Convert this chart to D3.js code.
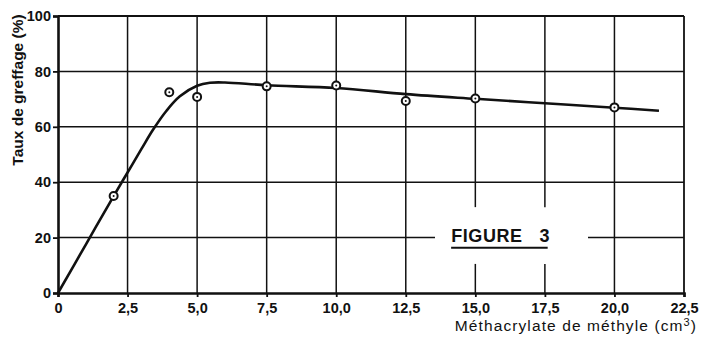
<!DOCTYPE html>
<html>
<head>
<meta charset="utf-8">
<script src="https://cdn.jsdelivr.net/npm/d3@7"></script>
<style>
  body { margin: 0; background: #fff; }
  svg { display: block; }
  text { font-family: "Liberation Sans", Arial, sans-serif; fill: #111; }
</style>
</head>
<body>
<svg width="701" height="338"></svg>
<script>
// measured points (x = cm3 methacrylate, y = % grafting)
var pointsX = [2, 4, 5, 7.5, 10, 12.5, 15, 20];
var pointsY = [35, 72.5, 70.8, 74.6, 74.9, 69.3, 70.2, 67];

// hand-drawn fit curve
var curveX = [0, 1, 2, 2.5, 3, 3.42, 3.9, 4.38, 5, 5.46, 6, 7.5, 10, 12.5, 15, 17.5, 20, 21.6];
var curveY = [0, 17.5, 35, 43.5, 52, 59, 65.8, 71, 74.8, 75.9, 76, 75, 74, 71.8, 70.1, 68.5, 66.9, 65.8];

var xTicks = [0, 2.5, 5, 7.5, 10, 12.5, 15, 17.5, 20, 22.5];
var yTicks = [0, 20, 40, 60, 80, 100];

var svg = d3.select("svg"),
  margin = { top: 16, right: 17, bottom: 45, left: 58 },
  width = +svg.attr("width") - margin.left - margin.right,
  height = +svg.attr("height") - margin.top - margin.bottom,
  g = svg.append("g").attr("transform", "translate(" + margin.left + "," + margin.top + ")");

var x = d3.scaleLinear().domain([0, 22.5]).range([0, width]),
  y = d3.scaleLinear().domain([0, 100]).range([height, 0]);

function fmt(v) {
  return v === 0 ? "0" : d3.format(".1f")(v).replace(".", ",");
}

// gaps left around the FIGURE 3 label
var gapTop = y(31), gapBottom = y(10.5), gapLeft = x(13.55), gapRight = x(19.05);

// vertical grid
xTicks.slice(1).forEach(function(t) {
  if (t === 15 || t === 17.5) {
    g.append("line").attr("x1", x(t)).attr("x2", x(t)).attr("y1", 0).attr("y2", gapTop)
      .attr("stroke", "#111").attr("stroke-width", 1.5);
    g.append("line").attr("x1", x(t)).attr("x2", x(t)).attr("y1", gapBottom).attr("y2", height)
      .attr("stroke", "#111").attr("stroke-width", 1.5);
  } else {
    g.append("line").attr("x1", x(t)).attr("x2", x(t)).attr("y1", 0).attr("y2", height)
      .attr("stroke", "#111").attr("stroke-width", t === 22.5 ? 1.8 : 1.5);
  }
});

// horizontal grid
yTicks.slice(1).forEach(function(t) {
  if (t === 20) {
    g.append("line").attr("x1", 0).attr("x2", gapLeft).attr("y1", y(t)).attr("y2", y(t))
      .attr("stroke", "#111").attr("stroke-width", 1.5);
    g.append("line").attr("x1", gapRight).attr("x2", width).attr("y1", y(t)).attr("y2", y(t))
      .attr("stroke", "#111").attr("stroke-width", 1.5);
  } else {
    g.append("line").attr("x1", 0).attr("x2", width).attr("y1", y(t)).attr("y2", y(t))
      .attr("stroke", "#111").attr("stroke-width", t === 100 ? 1.8 : 1.5);
  }
});

// axes
var xAxis = g.append("g")
  .attr("transform", "translate(0," + height + ")")
  .call(d3.axisBottom(x).tickValues(xTicks).tickFormat(fmt).tickSize(4).tickPadding(3));
var yAxis = g.append("g")
  .call(d3.axisLeft(y).tickValues(yTicks).tickFormat(d3.format("d")).tickSize(5).tickPadding(2));

[xAxis, yAxis].forEach(function(a) {
  a.select(".domain").attr("stroke", "#111").attr("stroke-width", 2.6);
  a.selectAll(".tick line").attr("stroke", "#111").attr("stroke-width", 1.8);
  a.selectAll(".tick text").style("font-size", "14.5px").style("font-weight", "bold").attr("fill", "#111");
});
xAxis.selectAll(".tick text").attr("dy", "0.9em");

// curve
var curveData = curveX.map(function(v, i) { return [v, curveY[i]]; });
var line = d3.line()
  .curve(d3.curveCatmullRom.alpha(0.5))
  .x(function(d) { return x(d[0]); })
  .y(function(d) { return y(d[1]); });

g.append("path")
  .datum(curveData)
  .attr("d", line)
  .attr("fill", "none")
  .attr("stroke", "#111")
  .attr("stroke-width", 2.6);

// points: circle with a centre dot
var pts = pointsX.map(function(v, i) { return [v, pointsY[i]]; });
var p = g.selectAll(".pt").data(pts).enter().append("g").attr("class", "pt")
  .attr("transform", function(d) { return "translate(" + x(d[0]) + "," + y(d[1]) + ")"; });
p.append("circle").attr("r", 4).attr("fill", "#fff").attr("stroke", "#111").attr("stroke-width", 2);
p.append("circle").attr("r", 1).attr("fill", "#111");

// FIGURE 3 label
g.append("text")
  .attr("x", x(14.13))
  .attr("y", y(18.3))
  .style("font-size", "18px")
  .style("font-weight", "bold")
  .style("letter-spacing", "0.6px")
  .text("FIGURE\u00a0\u00a0\u00a03");
g.append("line")
  .attr("x1", x(14.13)).attr("x2", x(17.6))
  .attr("y1", y(16.3)).attr("y2", y(16.3))
  .attr("stroke", "#111").attr("stroke-width", 2);

// axis titles
svg.append("text")
  .attr("transform", "translate(23,90) rotate(-90)")
  .attr("text-anchor", "middle")
  .style("font-size", "15.5px")
  .style("font-weight", "bold")
  .text("Taux de greffage (%)");

svg.append("text")
  .attr("x", 697)
  .attr("y", 331)
  .attr("text-anchor", "end")
  .style("font-size", "15.5px")
  .style("letter-spacing", "1.1px")
  .html("Méthacrylate de méthyle (cm<tspan dy='-5' font-size='11px'>3</tspan><tspan dy='5'>)</tspan>");
</script>
</body>
</html>
